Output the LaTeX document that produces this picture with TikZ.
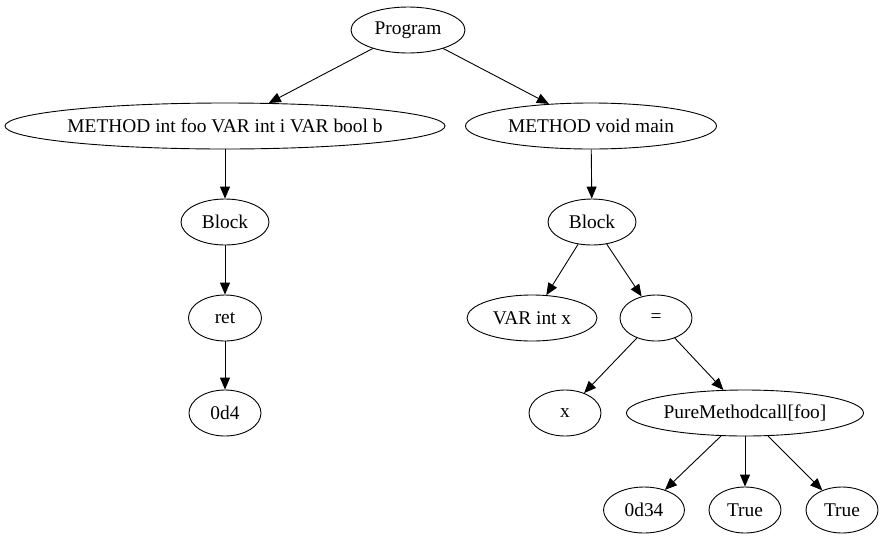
\documentclass[tikz,border=0pt]{standalone}
\usepackage{fontspec}
\setmainfont{Liberation Serif}
\usetikzlibrary{shapes.geometric,arrows.meta}
\newcommand{\bigfnt}{\fontsize{19.4}{22}\selectfont}
\begin{document}
\begin{tikzpicture}[x=1pt,y=-1pt,
  nd/.style={ellipse,draw,line width=0.9pt,inner sep=0pt,minimum height=46pt,font=\bigfnt},
  edge/.style={line width=0.9pt,-{Triangle[length=12pt,width=10pt]}}]
\useasboundingbox (0,0) rectangle (887,539);
\node[nd,minimum width=114pt] (prog) at (408,30) {Program};
\node[nd,minimum width=440pt,inner xsep=-3pt] (m1) at (225,126) {METHOD int foo VAR int i VAR bool b};
\node[nd,minimum width=251pt] (m2) at (591,126) {METHOD void main};
\node[nd,minimum width=88pt] (b1) at (225,222) {Block};
\node[nd,minimum width=73pt] (ret) at (225,318) {ret};
\node[nd,minimum width=72pt] (d4) at (225,413) {0d4};
\node[nd,minimum width=88pt] (b2) at (592,222) {Block};
\node[nd,minimum width=130pt] (var) at (532,318) {VAR int x};
\node[nd,minimum width=72pt] (eq) at (656,318) {=};
\node[nd,minimum width=72pt] (x) at (565,413) {x};
\node[nd,minimum width=237pt] (pm) at (745,413) {PureMethodcall[foo]};
\node[nd,minimum width=81pt] (d34) at (644,510) {0d34};
\node[nd,minimum width=72pt] (t1) at (745,510) {True};
\node[nd,minimum width=72pt] (t2) at (842,510) {True};
\draw[edge] (prog) -- (m1);
\draw[edge] (prog) -- (m2);
\draw[edge] (m1) -- (b1);
\draw[edge] (b1) -- (ret);
\draw[edge] (ret) -- (d4);
\draw[edge] (m2) -- (b2);
\draw[edge] (b2) -- (var);
\draw[edge] (b2) -- (eq);
\draw[edge] (eq) -- (x);
\draw[edge] (eq) -- (pm);
\draw[edge] (pm) -- (d34);
\draw[edge] (pm) -- (t1);
\draw[edge] (pm) -- (t2);
\end{tikzpicture}
\end{document}
